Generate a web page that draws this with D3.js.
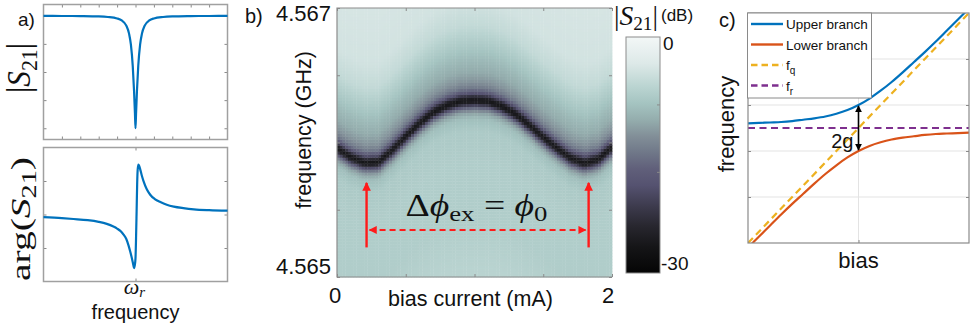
<!DOCTYPE html>
<html lang="en">

<head>
  <meta charset="UTF-8">
  <title>Resonator figure</title>
  <style>
    body { margin: 0; background: #fff; }
    text { font-family: "Liberation Sans", Arial, sans-serif; fill: #111; }
    .math { font-family: "Liberation Serif", "DejaVu Serif", serif; }
    .tk line { stroke: #8a8a8a; }
    .tk .domain { display: none; }
  </style>
</head>

<body>
  <script src="https://cdn.jsdelivr.net/npm/d3@7"></script>
  <script>
    // ---- panel a : |S21| and arg(S21) around the resonance (x in tick units)
    var detuning = [-5, -4, -3, -2, -1.5, -1, -0.75, -0.5, -0.35, -0.25, -0.15, -0.08, -0.03, 0,
      0.03, 0.08, 0.15, 0.25, 0.35, 0.5, 0.75, 1, 1.5, 2, 3, 4, 5];
    var magS21 = [0.999, 0.998, 0.997, 0.994, 0.989, 0.976, 0.958, 0.912, 0.841, 0.743, 0.555, 0.335, 0.132, 0,
      0.132, 0.335, 0.555, 0.743, 0.841, 0.912, 0.958, 0.976, 0.989, 0.994, 0.997, 0.998, 0.999];
    var phaseX = [-5, -4, -3.37, -2.6, -2, -1.56, -1.2, -1, -0.8, -0.65, -0.5, -0.38, -0.28, -0.19, -0.12, -0.08,
      -0.04, 0, 0.03, 0.06, 0.09, 0.12, 0.16, 0.2, 0.26, 0.35, 0.44, 0.6, 0.8, 1.05, 1.35, 1.7, 2.08, 2.6, 3.17, 4, 5];
    var phaseS21 = [-0.08, -0.11, -0.135, -0.17, -0.22, -0.28, -0.36, -0.42, -0.5, -0.6, -0.73, -0.92, -1.12, -1.32, -1.5, -1.6,
      -1.52, -1.31, -0.7, 0.08, 0.9, 1.35, 1.49, 1.45, 1.34, 1.15, 0.99, 0.77, 0.59, 0.46, 0.37, 0.29, 0.235, 0.19, 0.155, 0.13, 0.115];

    // ---- panel b : resonance frequency (GHz) vs bias current (mA)
    var biasCurrent = [0, 0.1, 0.2, 0.3, 0.4, 0.5, 0.6, 0.7, 0.8, 0.9, 1.0, 1.1, 1.2, 1.3, 1.4, 1.5, 1.6, 1.7, 1.8, 1.9, 2.0];
    var resFreq = [4.565959, 4.565892, 4.565851, 4.565855, 4.565944, 4.566048, 4.566145, 4.566227, 4.566279, 4.566309, 4.566316,
      4.566309, 4.566271, 4.566212, 4.566130, 4.566041, 4.565959, 4.565885, 4.565848, 4.565877, 4.565967];
    // dip profile across the line: offset from resonance (kHz) -> |S21| (dB)
    var profileOffset = [-1264, -892, -446, -223, -134, -89, -59, -37, -19, 0, 19, 37, 59, 89, 134, 208, 297, 409, 558, 744, 1190];
    var profileDb = [-7.5, -8.5, -8.5, -9, -10.5, -13.5, -18, -24, -29, -31, -29, -25, -20.5, -17, -14.5, -12.5, -11, -9, -6.5, -5, -4.5];
    var freqTicks = [4.565, 4.5655, 4.566, 4.5665, 4.567];
    var biasTicks = [0, 0.5, 1, 1.5, 2];
    var periodMins = [0.215, 1.83];
    // colour bar
    var cbarDb = [0, -3.9, -7.4, -9.8, -12.3, -14.7, -17.2, -19.6, -22, -25.2, -28, -31.2, -35];
    var cbarColors = ["#f3f7f7", "#dde9e8", "#bad4d1", "#a5c4c1", "#94adad", "#828f98", "#6f7788", "#605f7a",
      "#555270", "#3c3a4c", "#28272f", "#151517", "#050505"];
    var cbarTicks = [-10, -20];

    // ---- panel c : avoided crossing
    var biasC = [0, 0.1, 0.2, 0.3, 0.4, 0.5, 0.6, 0.7, 0.8, 0.9, 1.0, 1.1, 1.2, 1.3, 1.4, 1.5, 1.6, 1.7, 1.8, 1.9, 2.0];
    var upperBranch = [2.60, 2.61, 2.62, 2.63, 2.65, 2.68, 2.71, 2.75, 2.81, 2.89, 3.00, 3.14, 3.31, 3.50, 3.71, 3.93, 4.15, 4.38, 4.62, 4.86, 5.10];
    var lowerBranch = [-0.10, 0.14, 0.38, 0.62, 0.85, 1.07, 1.29, 1.50, 1.69, 1.86, 2.00, 2.11, 2.19, 2.25, 2.29, 2.32, 2.35, 2.37, 2.38, 2.39, 2.40];
    var biasLine = [0, 2];
    var qubitFreq = [0, 5];
    var resonatorFreq = [2.5, 2.5];
    var legendNames = ["Upper branch", "Lower branch", "f", "f"];
    var legendSubs = ["", "", "q", "r"];
    var legendColors = ["#0072BD", "#D95319", "#EDB120", "#7E2F8E"];

    var svg = d3.select("body").append("svg")
      .attr("width", 980)
      .attr("height", 328);

    // ticks on all four sides of a box, pointing inwards
    function boxTicks(g, x, y, xt, yt) {
      var x0 = x.range()[0], x1 = x.range()[1], y0 = y.range()[0], y1 = y.range()[1];
      g.append("g").attr("class", "tk").attr("transform", "translate(0," + y0 + ")")
        .call(d3.axisTop(x).tickValues(xt).tickSize(3).tickFormat(""));
      g.append("g").attr("class", "tk").attr("transform", "translate(0," + y1 + ")")
        .call(d3.axisBottom(x).tickValues(xt).tickSize(3).tickFormat(""));
      g.append("g").attr("class", "tk").attr("transform", "translate(" + x0 + ",0)")
        .call(d3.axisRight(y).tickValues(yt).tickSize(3).tickFormat(""));
      g.append("g").attr("class", "tk").attr("transform", "translate(" + x1 + ",0)")
        .call(d3.axisLeft(y).tickValues(yt).tickSize(3).tickFormat(""));
    }

    function frame(g, x, y, col, w) {
      g.append("rect")
        .attr("x", x.range()[0]).attr("y", y.range()[1])
        .attr("width", x.range()[1] - x.range()[0])
        .attr("height", y.range()[0] - y.range()[1])
        .attr("fill", "none").attr("stroke", col).attr("stroke-width", w || 1.2);
    }

    // |S21| with a subscript, used twice
    function s21(t, size) {
      t.append("tspan").text("|");
      t.append("tspan").attr("font-style", "italic").text("S");
      t.append("tspan").attr("font-size", size * 0.7).attr("dy", size * 0.2).text("21");
      t.append("tspan").attr("dy", -size * 0.2).text("|");
    }

    /* ================= panel a ================= */
    var ga = svg.append("g");
    var xA = d3.scaleLinear().domain([-5, 5]).range([43.5, 227.5]);
    var yA1 = d3.scaleLinear().domain([-0.1, 1.1]).range([139.5, 4.5]);
    var yA2 = d3.scaleLinear().domain([-2, 2]).range([281.5, 147.5]);

    boxTicks(ga, xA, yA1, d3.range(-4, 5), [0, 0.25, 0.5, 0.75, 1]);
    boxTicks(ga, xA, yA2, [0], [-1, 0, 1]);
    frame(ga, xA, yA1, "#a0a0a0", 1.5);
    frame(ga, xA, yA2, "#a0a0a0", 1.5);

    var lineA1 = d3.line().x(function (d, i) { return xA(detuning[i]); })
      .y(function (d) { return yA1(d); }).curve(d3.curveMonotoneX);
    var lineA2 = d3.line().x(function (d, i) { return xA(phaseX[i]); })
      .y(function (d) { return yA2(d); }).curve(d3.curveMonotoneX);
    ga.append("path").attr("d", lineA1(magS21))
      .attr("fill", "none").attr("stroke", "#0072BD").attr("stroke-width", 2.2);
    ga.append("path").attr("d", lineA2(phaseS21))
      .attr("fill", "none").attr("stroke", "#0072BD").attr("stroke-width", 2.2);

    ga.append("text").attr("x", 18).attr("y", 26).attr("font-size", 19).text("a)");

    var t1 = ga.append("text").attr("class", "math")
      .attr("transform", "translate(30,68) rotate(-90)")
      .attr("text-anchor", "middle").attr("font-size", 33)
      .attr("textLength", 50).attr("lengthAdjust", "spacingAndGlyphs");
    s21(t1, 33);

    var t2 = ga.append("text").attr("class", "math")
      .attr("transform", "translate(30,219) rotate(-90)")
      .attr("text-anchor", "middle").attr("font-size", 28)
      .attr("textLength", 124).attr("lengthAdjust", "spacingAndGlyphs");
    t2.append("tspan").text("arg(");
    t2.append("tspan").attr("font-style", "italic").text("S");
    t2.append("tspan").attr("font-size", 20).attr("dy", 6).text("21");
    t2.append("tspan").attr("dy", -6).text(")");

    var t3 = ga.append("text").attr("class", "math")
      .attr("x", xA(0) - 1).attr("y", 294).attr("text-anchor", "middle").attr("font-size", 22);
    t3.append("tspan").attr("font-style", "italic").text("ω");
    t3.append("tspan").attr("font-style", "italic").attr("font-size", 15).attr("dy", 3).text("r");

    ga.append("text").attr("x", xA(0)).attr("y", 319).attr("text-anchor", "middle")
      .attr("font-size", 20).text("frequency");

    /* ================= panel b ================= */
    var gb = svg.append("g");
    var xB = d3.scaleLinear().domain([0, 2]).range([337, 612]);
    var yB = d3.scaleLinear().domain([4.565, 4.567]).range([277, 8]);
    var cmap = d3.scaleLinear().domain(cbarDb).range(cbarColors).clamp(true);
    var ridge = d3.scaleLinear().domain(biasCurrent).range(resFreq);
    var profile = d3.scaleLinear().domain(profileOffset).range(profileDb).clamp(true);

    var nCols = 100, nRows = 90;
    var cells = [];
    for (var c = 0; c < nCols; c++) {
      var b = (c + 0.5) * 2 / nCols;
      for (var r = 0; r < nRows; r++) {
        var f = 4.565 + (r + 0.5) * 0.002 / nRows;
        cells.push({ c: c, r: r, db: profile((f - ridge(b)) * 1e6) });
      }
    }
    var cw = (xB(2) - xB(0)) / nCols, ch = (yB(4.565) - yB(4.567)) / nRows;
    gb.append("g").selectAll("rect").data(cells).enter().append("rect")
      .attr("x", function (d) { return xB(0) + d.c * cw; })
      .attr("y", function (d) { return yB(4.565) - (d.r + 1) * ch; })
      .attr("width", cw + 0.4).attr("height", ch + 0.4)
      .attr("fill", function (d) { return cmap(d.db); });

    gb.append("path")
      .attr("d", "M" + xB(2) + "," + yB(4.567) + "H" + xB(0) + "V" + yB(4.565) + "H" + xB(2))
      .attr("fill", "none").attr("stroke", "#8c8c8c").attr("stroke-width", 1.2);
    gb.append("g").attr("class", "tk").attr("transform", "translate(0," + yB(4.565) + ")")
      .call(d3.axisTop(xB).tickValues(biasTicks).tickSize(3).tickFormat(""));
    gb.append("g").attr("class", "tk").attr("transform", "translate(0," + yB(4.567) + ")")
      .call(d3.axisBottom(xB).tickValues(biasTicks).tickSize(3).tickFormat(""));
    gb.append("g").attr("class", "tk").attr("transform", "translate(" + xB(0) + ",0)")
      .call(d3.axisRight(yB).tickValues(freqTicks).tickSize(3).tickFormat(""));
    gb.append("g").attr("class", "tk").attr("transform", "translate(" + xB(2) + ",0)")
      .call(d3.axisLeft(yB).tickValues(freqTicks).tickSize(3).tickFormat(""));

    // tick labels only at the ends
    gb.append("text").attr("x", xB(0) - 6).attr("y", yB(4.567) + 13).attr("text-anchor", "end")
      .attr("font-size", 22).text("4.567");
    gb.append("text").attr("x", xB(0) - 6).attr("y", yB(4.565) - 3).attr("text-anchor", "end")
      .attr("font-size", 22).text("4.565");
    gb.append("text").attr("x", xB(0) - 2).attr("y", 303).attr("text-anchor", "middle")
      .attr("font-size", 22).text("0");
    gb.append("text").attr("x", xB(2) - 4).attr("y", 303).attr("text-anchor", "middle")
      .attr("font-size", 22).text("2");
    gb.append("text").attr("x", xB(1) - 4).attr("y", 306).attr("text-anchor", "middle")
      .attr("font-size", 21.5).text("bias current (mA)");
    gb.append("text").attr("transform", "translate(311,130) rotate(-90)").attr("text-anchor", "middle")
      .attr("font-size", 21.5).text("frequency (GHz)");
    gb.append("text").attr("x", 245).attr("y", 23).attr("font-size", 20).text("b)");

    // flux period annotation
    var defs = svg.append("defs");
    defs.append("marker").attr("id", "redHead").attr("viewBox", "0 0 10 10")
      .attr("refX", 9).attr("refY", 5).attr("markerWidth", 3.8).attr("markerHeight", 3.6)
      .attr("orient", "auto-start-reverse").attr("markerUnits", "strokeWidth")
      .append("path").attr("d", "M0,0L10,5L0,10Z").attr("fill", "#ff1a1a");
    defs.append("marker").attr("id", "redSmall").attr("viewBox", "0 0 10 10")
      .attr("refX", 9).attr("refY", 5).attr("markerWidth", 4.5).attr("markerHeight", 4)
      .attr("orient", "auto-start-reverse").attr("markerUnits", "strokeWidth")
      .append("path").attr("d", "M0,0L10,5L0,10Z").attr("fill", "#ff1a1a");
    defs.append("marker").attr("id", "blackHead").attr("viewBox", "0 0 10 10")
      .attr("refX", 9).attr("refY", 5).attr("markerWidth", 4.5).attr("markerHeight", 4.5)
      .attr("orient", "auto-start-reverse").attr("markerUnits", "strokeWidth")
      .append("path").attr("d", "M0,0L10,5L0,10Z").attr("fill", "#000");

    gb.selectAll(".varrow").data(periodMins).enter().append("line")
      .attr("x1", function (d) { return xB(d); }).attr("x2", function (d) { return xB(d); })
      .attr("y1", yB(4.56522)).attr("y2", yB(4.5657))
      .attr("stroke", "#ff1a1a").attr("stroke-width", 2.4)
      .attr("marker-end", "url(#redHead)");
    gb.append("line")
      .attr("x1", xB(periodMins[0]) + 3).attr("x2", xB(periodMins[1]) - 3)
      .attr("y1", yB(4.56535)).attr("y2", yB(4.56535))
      .attr("stroke", "#ff1a1a").attr("stroke-width", 2).attr("stroke-dasharray", "6,4")
      .attr("marker-start", "url(#redSmall)").attr("marker-end", "url(#redSmall)");

    var t4 = gb.append("text").attr("class", "math")
      .attr("x", xB(1) + 2).attr("y", 216).attr("text-anchor", "middle").attr("font-size", 31)
      .attr("textLength", 142).attr("lengthAdjust", "spacingAndGlyphs");
    t4.append("tspan").text("Δ");
    t4.append("tspan").attr("font-style", "italic").text("ϕ");
    t4.append("tspan").attr("font-size", 22).attr("dy", 5).text("ex");
    t4.append("tspan").attr("dy", -5).text(" = ");
    t4.append("tspan").attr("font-style", "italic").text("ϕ");
    t4.append("tspan").attr("font-size", 22).attr("dy", 5).text("0");

    // colour bar
    var cb = d3.scaleLinear().domain([-35, 0]).range([273, 37]);
    var grad = defs.append("linearGradient").attr("id", "cbar")
      .attr("x1", 0).attr("y1", 0).attr("x2", 0).attr("y2", 1);
    grad.selectAll("stop").data(cbarDb).enter().append("stop")
      .attr("offset", function (d) { return (cb(d) - cb(0)) / (cb(-35) - cb(0)); })
      .attr("stop-color", function (d, i) { return cbarColors[i]; });
    gb.append("rect").attr("x", 626).attr("y", cb(0)).attr("width", 34).attr("height", cb(-35) - cb(0))
      .attr("fill", "url(#cbar)").attr("stroke", "#8c8c8c").attr("stroke-width", 1);
    gb.append("g").attr("class", "tk").attr("transform", "translate(660,0)")
      .call(d3.axisLeft(cb).tickValues(cbarTicks).tickSize(3).tickFormat(""));
    gb.append("text").attr("x", 663).attr("y", cb(0) + 13).attr("font-size", 19).text("0");
    gb.append("text").attr("x", 661).attr("y", cb(-35) - 3).attr("font-size", 19).text("-30");

    var t5 = gb.append("text").attr("class", "math").attr("x", 614).attr("y", 25).attr("font-size", 27)
      .attr("textLength", 44).attr("lengthAdjust", "spacingAndGlyphs");
    s21(t5, 27);
    gb.append("text").attr("x", 661).attr("y", 21).attr("font-size", 17).text("(dB)");

    /* ================= panel c ================= */
    var gc = svg.append("g");
    var xC = d3.scaleLinear().domain([0, 2]).range([748, 969]);
    var yC = d3.scaleLinear().domain([0, 5]).range([243, 13]);

    gc.append("g").selectAll("line").data([1, 2, 3, 4]).enter().append("line")
      .attr("x1", xC(0)).attr("x2", xC(2))
      .attr("y1", function (d) { return yC(d); }).attr("y2", function (d) { return yC(d); })
      .attr("stroke", "#e3e3e3");
    gc.append("line").attr("x1", xC(1)).attr("x2", xC(1)).attr("y1", yC(0)).attr("y2", yC(5))
      .attr("stroke", "#e3e3e3");
    boxTicks(gc, xC, yC, [1], [1, 2, 3, 4]);

    gc.append("clipPath").attr("id", "clipC").append("rect")
      .attr("x", xC(0)).attr("y", yC(5)).attr("width", xC(2) - xC(0)).attr("height", yC(0) - yC(5));
    var plotC = gc.append("g").attr("clip-path", "url(#clipC)");
    var lineC = d3.line().curve(d3.curveMonotoneX);

    function series(xs, ys) {
      return xs.map(function (v, i) { return [xC(v), yC(ys[i])]; });
    }
    plotC.append("path").attr("d", lineC(series(biasLine, resonatorFreq)))
      .attr("fill", "none").attr("stroke", legendColors[3]).attr("stroke-width", 2.2).attr("stroke-dasharray", "7,4.5");
    plotC.append("path").attr("d", lineC(series(biasLine, qubitFreq)))
      .attr("fill", "none").attr("stroke", legendColors[2]).attr("stroke-width", 2.2).attr("stroke-dasharray", "7,4.5");
    plotC.append("path").attr("d", lineC(series(biasC, upperBranch)))
      .attr("fill", "none").attr("stroke", legendColors[0]).attr("stroke-width", 2.2);
    plotC.append("path").attr("d", lineC(series(biasC, lowerBranch)))
      .attr("fill", "none").attr("stroke", legendColors[1]).attr("stroke-width", 2.2);
    frame(gc, xC, yC, "#8a8a8a");

    // 2g arrow at the crossing point
    var iMid = biasC.indexOf(1.0);
    gc.append("line").attr("x1", xC(1)).attr("x2", xC(1))
      .attr("y1", yC(lowerBranch[iMid]) - 1).attr("y2", yC(upperBranch[iMid]) + 1)
      .attr("stroke", "#000").attr("stroke-width", 1.6)
      .attr("marker-start", "url(#blackHead)").attr("marker-end", "url(#blackHead)");
    gc.append("text").attr("x", xC(1) - 5).attr("y", 148).attr("text-anchor", "end")
      .attr("font-size", 20).text("2g");

    // legend
    var lg = gc.append("g");
    lg.append("rect").attr("x", 747.5).attr("y", 13).attr("width", 124).attr("height", 85)
      .attr("fill", "#fff").attr("stroke", "#8a8a8a");
    var items = lg.selectAll(".item").data(legendNames).enter().append("g")
      .attr("transform", function (d, i) { return "translate(750," + (24 + i * 20.5) + ")"; });
    items.append("line").attr("x1", 1).attr("x2", 33)
      .attr("stroke", function (d, i) { return legendColors[i]; }).attr("stroke-width", 2.4)
      .attr("stroke-dasharray", function (d, i) { return i > 1 ? "6.5,4" : null; });
    var lt = items.append("text").attr("x", 36).attr("y", 5).attr("font-size", 13.5);
    lt.append("tspan").text(function (d) { return d; });
    lt.append("tspan").attr("font-size", 10).attr("dy", 4).text(function (d, i) { return legendSubs[i]; });

    gc.append("text").attr("transform", "translate(734,124) rotate(-90)").attr("text-anchor", "middle")
      .attr("font-size", 22).text("frequency");
    gc.append("text").attr("x", xC(1)).attr("y", 268).attr("text-anchor", "middle")
      .attr("font-size", 22).text("bias");
    gc.append("text").attr("x", 719).attr("y", 27).attr("font-size", 20).text("c)");
  </script>
</body>

</html>
